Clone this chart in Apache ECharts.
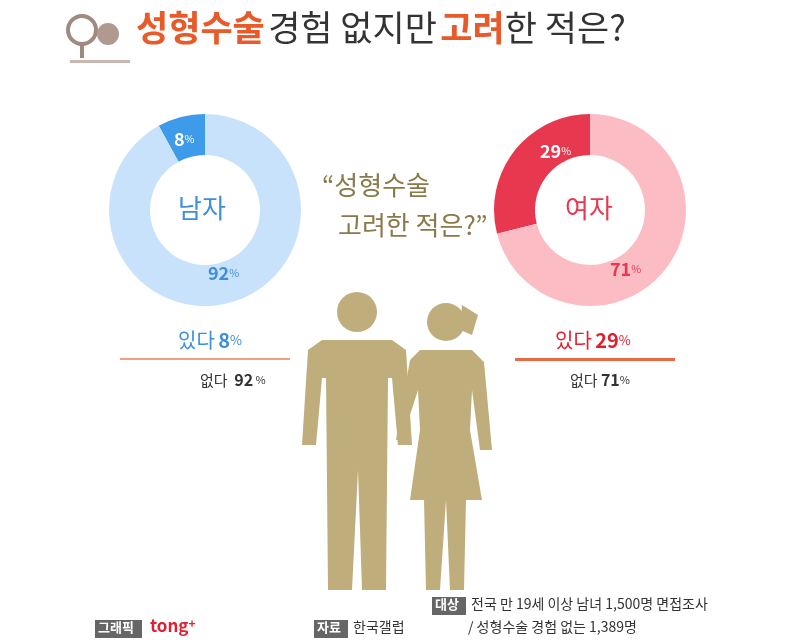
<!DOCTYPE html>
<html><head><meta charset="utf-8">
<script src="https://cdn.jsdelivr.net/npm/echarts@6/dist/echarts.min.js"></script>
<style>body{margin:0;background:#fff}#c{width:800px;height:640px}</style></head>
<body><div id="c"></div>
<script>
const categories = ['있다', '없다'];
const maleValues = [8, 92];
const femaleValues = [29, 71];
const F = '"Noto Sans CJK KR", sans-serif';
const gold = '#bfae7c';
const chart = echarts.init(document.getElementById('c'));
function pie(center, vals, colors){
  return {type:'pie', center:center, radius:[55,96], startAngle:90, clockwise:false, silent:true, z:1,
    label:{show:false}, labelLine:{show:false},
    data: vals.map((v,i)=>({name:categories[i], value:v, itemStyle:{color:colors[i]}}))};
}
function pct(x,y,v,color,size){
  return {type:'text', left:x, top:y, style:{rich:{a:{fontSize:size,fill:color,fontFamily:F,fontWeight:'bold'},b:{fontSize:size*0.6,fill:color,fontFamily:F}}, text:'{a|'+v+'}{b|%}'}};
}
const g = [
  {type:'circle', shape:{cx:82,cy:30,r:14}, style:{fill:'#fff',stroke:'#a08a80',lineWidth:4}},
  {type:'rect', shape:{x:80,y:44,width:4,height:14}, style:{fill:'#a08a80'}},
  {type:'rect', shape:{x:70,y:60,width:60,height:3}, style:{fill:'#c8b8b0'}},
  {type:'circle', shape:{cx:108,cy:34,r:11}, style:{fill:'#b09a90'}},
  {type:'text', left:136, top:10, style:{rich:{o:{fill:'#e85a2a',fontSize:35,fontWeight:'bold',fontFamily:F},k:{fill:'#333',fontSize:35,fontFamily:F}}, text:'{o|성형수술} {k|경험 없지만} {o|고려}{k|한 적은?}'}},
  {type:'text', left:322, top:172, style:{text:'“성형수술', fill:'#8a7a4a', fontSize:26, fontFamily:F}},
  {type:'text', left:338, top:212, style:{text:'고려한 적은?”', fill:'#8a7a4a', fontSize:26, fontFamily:F}},
  {type:'text', left:178, top:195, style:{text:'남자', fill:'#3d8fd9', fontSize:26, fontFamily:F}},
  {type:'text', left:565, top:195, style:{text:'여자', fill:'#e8384f', fontSize:26, fontFamily:F}},
  pct(174,130,maleValues[0],'#fff',18),
  pct(208,264,maleValues[1],'#3d8fd9',18),
  pct(540,142,femaleValues[0],'#fff',18),
  pct(610,260,femaleValues[1],'#e8384f',18),
  {type:'text', left:178, top:330, style:{rich:{k:{fill:'#3d8fd9',fontSize:20,fontFamily:F},b:{fill:'#3d8fd9',fontSize:20,fontWeight:'bold',fontFamily:F},s:{fill:'#3d8fd9',fontSize:13,fontFamily:F}}, text:'{k|'+categories[0]+'} {b|'+maleValues[0]+'}{s|%}'}},
  {type:'rect', shape:{x:120,y:358,width:170,height:2}, style:{fill:'#f0a080'}},
  {type:'text', left:200, top:372, style:{rich:{k:{fill:'#333',fontSize:15,fontFamily:F},b:{fill:'#333',fontSize:16,fontWeight:'bold',fontFamily:F},s:{fill:'#333',fontSize:11,fontFamily:F}}, text:'{k|'+categories[1]+'}  {b|'+maleValues[1]+'}{s| %}'}},
  {type:'text', left:555, top:330, style:{rich:{k:{fill:'#e02030',fontSize:20,fontFamily:F},b:{fill:'#e02030',fontSize:20,fontWeight:'bold',fontFamily:F},s:{fill:'#e02030',fontSize:13,fontFamily:F}}, text:'{k|'+categories[0]+'} {b|'+femaleValues[0]+'}{s|%}'}},
  {type:'rect', shape:{x:515,y:358,width:160,height:3}, style:{fill:'#e86a40'}},
  {type:'text', left:570, top:372, style:{rich:{k:{fill:'#333',fontSize:15,fontFamily:F},b:{fill:'#333',fontSize:16,fontWeight:'bold',fontFamily:F},s:{fill:'#333',fontSize:11,fontFamily:F}}, text:'{k|'+categories[1]+'} {b|'+femaleValues[1]+'}{s|%}'}},
  {type:'circle', shape:{cx:357,cy:312,r:20}, style:{fill:gold}},
  {type:'polygon', shape:{points:[[322,340],[392,340],[406,350],[412,445],[398,445],[392,378],[388,378],[386,590],[362,590],[358,470],[352,590],[328,590],[326,378],[322,378],[316,445],[302,445],[308,350]]}, style:{fill:gold}},
  {type:'circle', shape:{cx:446,cy:322,r:19}, style:{fill:gold}},
  {type:'polygon', shape:{points:[[462,305],[478,315],[472,335],[460,330]]}, style:{fill:gold}},
  {type:'polygon', shape:{points:[[420,350],[472,350],[484,362],[492,450],[480,450],[472,390],[470,430],[482,500],[466,500],[464,590],[450,590],[446,500],[440,590],[426,590],[424,500],[410,500],[420,430],[418,390],[402,440],[396,440],[410,360]]}, style:{fill:gold}},
  {type:'rect', shape:{x:95,y:620,width:47,height:18}, style:{fill:'#666'}},
  {type:'text', left:98, top:621, style:{text:'그래픽', fill:'#fff', fontSize:13, fontWeight:'bold', fontFamily:F}},
  {type:'text', left:150, top:617, style:{rich:{a:{fill:'#e02030',fontSize:17,fontWeight:'bold',fontFamily:F},b:{fill:'#e02030',fontSize:12,fontWeight:'bold',fontFamily:F,verticalAlign:'top'}}, text:'{a|tong}{b|+}'}},
  {type:'rect', shape:{x:314,y:620,width:34,height:18}, style:{fill:'#666'}},
  {type:'text', left:317, top:621, style:{text:'자료', fill:'#fff', fontSize:13, fontWeight:'bold', fontFamily:F}},
  {type:'text', left:353, top:620, style:{text:'한국갤럽', fill:'#333', fontSize:14, fontFamily:F}},
  {type:'rect', shape:{x:432,y:597,width:34,height:18}, style:{fill:'#666'}},
  {type:'text', left:435, top:598, style:{text:'대상', fill:'#fff', fontSize:13, fontWeight:'bold', fontFamily:F}},
  {type:'text', left:471, top:597, style:{text:'전국 만 19세 이상 남녀 1,500명 면접조사', fill:'#333', fontSize:14, fontFamily:F}},
  {type:'text', left:468, top:620, style:{text:'/ 성형수술 경험 없는 1,389명', fill:'#333', fontSize:14, fontFamily:F}}
].map(e=>Object.assign({z:100}, e));
chart.setOption({
  backgroundColor:'#fff', animation:false,
  series:[pie([205,210], maleValues, ['#3d9be9','#c8e2fb']), pie([590,210], femaleValues, ['#e8384f','#fbbcc4'])],
  graphic:{elements:g}
});
</script></body></html>
